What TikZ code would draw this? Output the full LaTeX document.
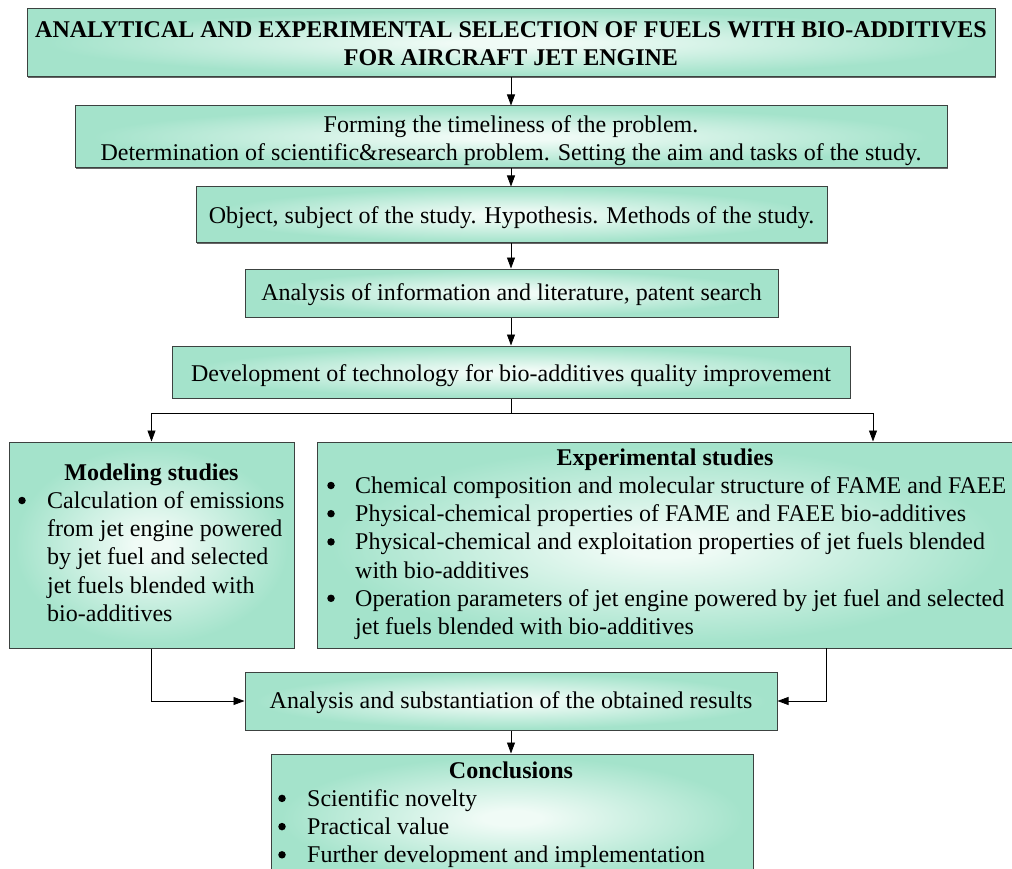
\documentclass[tikz,border=0pt]{standalone}
\usepackage{fontspec}
\setmainfont{Liberation Serif}
\usetikzlibrary{arrows.meta,shadows}
\definecolor{glowin}{RGB}{240,251,246}
\definecolor{glowout}{RGB}{164,227,203}
\definecolor{edgegrey}{RGB}{60,66,64}
\pgfdeclareradialshading{boxglow}{\pgfpointorigin}{color(0bp)=(glowin); color(3bp)=(glowin); color(24bp)=(glowout); color(50bp)=(glowout)}

\begin{document}
\begin{tikzpicture}[x=1pt,y=-1pt,
  font=\fontsize{24}{28.4}\selectfont,
  box/.style={draw=edgegrey, line width=1pt, shade, shading=boxglow, inner sep=0pt,
    drop shadow={shadow xshift=1.2pt, shadow yshift=-1.2pt, fill=black!60, opacity=1}},
  txt/.style={inner sep=0pt, anchor=base},
  ltxt/.style={inner sep=0pt, anchor=base west},
  dot/.style={circle, fill=black, inner sep=0pt, minimum size=7.5pt},
  bold/.style={font=\fontsize{24}{28.4}\selectfont\bfseries},
  flow/.style={draw=black, line width=0.8pt, -{Triangle[length=11pt,width=8pt]}},
  wire/.style={draw=black, line width=0.8pt}]

\useasboundingbox (0,0) rectangle (1012,869);

% boxes
\node[box, minimum width=968pt, minimum height=68pt] (title) at (511,43) {};
\node[box, minimum width=872pt, minimum height=62pt] (form) at (511,137) {};
\node[box, minimum width=631pt, minimum height=56pt] (obj) at (511.5,215) {};
\node[box, minimum width=533pt, minimum height=48pt] (ana) at (511.5,293) {};
\node[box, minimum width=678pt, minimum height=52pt] (dev) at (511,372) {};
\node[box, minimum width=285pt, minimum height=206pt] (mod) at (151.5,545) {};
\node[box, minimum width=697pt, minimum height=206pt] (exp) at (665.5,545) {};
\node[box, minimum width=532pt, minimum height=58pt] (res) at (511,701) {};
\node[box, minimum width=482pt, minimum height=128pt] (con) at (512,818) {};

% single-column texts
\node[txt, bold] (title-a) at (511,38) {ANALYTICAL AND EXPERIMENTAL SELECTION OF FUELS WITH BIO-ADDITIVES};
\node[txt, bold] (title-b) at (511,66) {FOR AIRCRAFT JET ENGINE};
\node[txt] (form-a) at (511,133) {Forming the timeliness of the problem.};
\node[txt] (form-b) at (511,161) {Determination of scientific\&research problem. Setting the aim and tasks of the study.};
\node[txt] (obj-t) at (511.5,224) {Object, subject of the study. Hypothesis. Methods of the study.};
\node[txt] (ana-t) at (511.5,300) {Analysis of information and literature, patent search};
\node[txt] (dev-t) at (511,381) {Development of technology for bio-additives quality improvement};
\node[txt] (res-t) at (511,708) {Analysis and substantiation of the obtained results};

% modeling studies
\node[txt, bold] (mod-h) at (151.5,480) {Modeling studies};
\node[dot] (mod-b1) at (22,500.5) {};
\node[ltxt] (mod-1) at (47,508.5) {Calculation of emissions};
\node[ltxt] (mod-2) at (47,536.7) {from jet engine powered};
\node[ltxt] (mod-3) at (47,564.9) {by jet fuel and selected};
\node[ltxt] (mod-4) at (47,593.1) {jet fuels blended with};
\node[ltxt] (mod-5) at (47,621.3) {bio-additives};

% experimental studies
\node[txt, bold] (exp-h) at (665,465) {Experimental studies};
\node[dot] (exp-b1) at (331,485.5) {};
\node[ltxt] (exp-1) at (355,493.5) {Chemical composition and molecular structure of FAME and FAEE};
\node[dot] (exp-b2) at (331,513.7) {};
\node[ltxt] (exp-2) at (355,521.7) {Physical-chemical properties of FAME and FAEE bio-additives};
\node[dot] (exp-b3) at (331,541.9) {};
\node[ltxt] (exp-3) at (355,549.9) {Physical-chemical and exploitation properties of jet fuels blended};
\node[ltxt] (exp-4) at (355,578.1) {with bio-additives};
\node[dot] (exp-b5) at (331,598.3) {};
\node[ltxt] (exp-5) at (355,606.3) {Operation parameters of jet engine powered by jet fuel and selected};
\node[ltxt] (exp-6) at (355,634.5) {jet fuels blended with bio-additives};

% conclusions
\node[txt, bold] (con-h) at (511,778) {Conclusions};
\node[dot] (con-b1) at (282,798.4) {};
\node[ltxt] (con-1) at (307,806.4) {Scientific novelty};
\node[dot] (con-b2) at (282,826.6) {};
\node[ltxt] (con-2) at (307,834.6) {Practical value};
\node[dot] (con-b3) at (282,854.8) {};
\node[ltxt] (con-3) at (307,862.8) {Further development and implementation};

% connectors
\coordinate (split) at (511,413.5);
\coordinate (expin) at (873,413.5);
\coordinate (expout) at (826,648);
\draw[flow] (title.south) -- (form.north);
\draw[flow] (form.south) -- (form.south |- obj.north);
\draw[flow] (obj.south -| form.south) -- (form.south |- ana.north);
\draw[flow] (ana.south -| form.south) -- (dev.north);
\draw[wire] (dev.south) -- (split);
\draw[flow] (split) -| (mod.north);
\draw[flow] (split) -- (expin) -- (expin |- exp.north);
\draw[flow] (mod.south) |- (res.west);
\draw[flow] (expout) |- (res.east);
\draw[flow] (res.south) -- (res.south |- con.north);
\end{tikzpicture}
\end{document}
